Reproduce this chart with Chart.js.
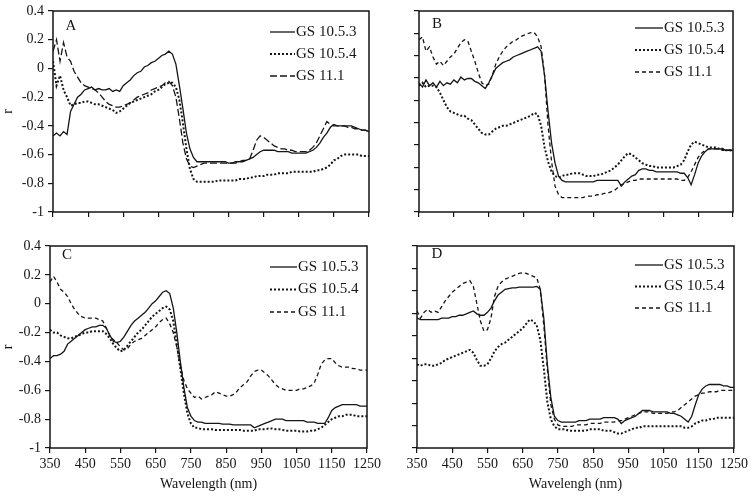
<!DOCTYPE html>
<html>
<head>
<meta charset="utf-8">
<script src="https://cdn.jsdelivr.net/npm/chart.js@4"></script>
<style>
html, body { margin: 0; padding: 0; background: #fff; }
#wrap { position: relative; width: 751px; height: 496px; overflow: hidden; }
#wrap canvas { position: absolute; left: 0; top: 0; }
</style>
</head>
<body>
<div id="wrap">
<canvas id="pA" width="751" height="496"></canvas>
<canvas id="pB" width="751" height="496"></canvas>
<canvas id="pC" width="751" height="496"></canvas>
<canvas id="pD" width="751" height="496"></canvas>
</div>
<script>
// wavelength (nm)
var wl = [350,360,370,380,390,400,410,420,430,440,
  450,460,470,480,490,500,510,520,530,540,
  550,560,570,580,590,600,610,620,630,640,
  650,660,670,680,690,700,710,720,730,740,
  750,760,770,780,790,800,810,820,830,840,
  850,860,870,880,890,900,910,920,930,940,
  950,960,970,980,990,1000,1010,1020,1030,1040,
  1050,1060,1070,1080,1090,1100,1110,1120,1130,1140,
  1150,1160,1170,1180,1190,1200,1210,1220,1230,1240,
  1250];

var seriesNames = ['GS 10.5.3', 'GS 10.5.4', 'GS 11.1'];

// panel A
var aGS1053 = [-0.47,-0.45,-0.47,-0.44,-0.46,-0.3,-0.25,-0.2,-0.18,-0.15,
  -0.14,-0.13,-0.15,-0.14,-0.15,-0.15,-0.14,-0.16,-0.15,-0.16,
  -0.12,-0.1,-0.08,-0.05,-0.03,-0.02,0.01,0.02,0.04,0.05,
  0.07,0.09,0.1,0.12,0.1,0.03,-0.12,-0.28,-0.45,-0.56,
  -0.62,-0.65,-0.65,-0.65,-0.65,-0.65,-0.65,-0.65,-0.65,-0.65,
  -0.66,-0.66,-0.65,-0.65,-0.64,-0.64,-0.63,-0.62,-0.6,-0.58,
  -0.57,-0.57,-0.57,-0.57,-0.58,-0.58,-0.58,-0.58,-0.59,-0.59,
  -0.59,-0.59,-0.59,-0.58,-0.57,-0.55,-0.52,-0.48,-0.45,-0.41,
  -0.39,-0.4,-0.4,-0.4,-0.4,-0.4,-0.41,-0.42,-0.43,-0.43,
  -0.44];
var aGS1054 = [0.05,-0.12,-0.05,-0.15,-0.2,-0.26,-0.25,-0.24,-0.24,-0.23,
  -0.23,-0.24,-0.25,-0.25,-0.26,-0.27,-0.28,-0.29,-0.31,-0.3,
  -0.28,-0.26,-0.24,-0.23,-0.22,-0.21,-0.2,-0.19,-0.18,-0.16,
  -0.15,-0.13,-0.11,-0.1,-0.1,-0.13,-0.22,-0.38,-0.56,-0.7,
  -0.77,-0.79,-0.79,-0.79,-0.79,-0.79,-0.79,-0.78,-0.78,-0.78,
  -0.78,-0.78,-0.78,-0.77,-0.77,-0.77,-0.76,-0.76,-0.75,-0.75,
  -0.75,-0.74,-0.74,-0.74,-0.73,-0.73,-0.73,-0.73,-0.72,-0.72,
  -0.72,-0.72,-0.72,-0.72,-0.72,-0.71,-0.71,-0.7,-0.69,-0.67,
  -0.64,-0.63,-0.61,-0.6,-0.6,-0.6,-0.6,-0.6,-0.61,-0.61,
  -0.61];
var aGS111 = [0.12,0.2,0.05,0.18,0.08,0.05,-0.02,-0.06,-0.1,-0.12,
  -0.13,-0.14,-0.15,-0.17,-0.2,-0.23,-0.25,-0.26,-0.27,-0.27,
  -0.26,-0.25,-0.24,-0.22,-0.2,-0.19,-0.18,-0.17,-0.15,-0.14,
  -0.13,-0.12,-0.1,-0.09,-0.12,-0.2,-0.35,-0.52,-0.63,-0.68,
  -0.69,-0.68,-0.67,-0.66,-0.66,-0.66,-0.66,-0.66,-0.66,-0.66,
  -0.66,-0.66,-0.66,-0.65,-0.65,-0.64,-0.63,-0.57,-0.5,-0.47,
  -0.48,-0.5,-0.52,-0.54,-0.55,-0.56,-0.56,-0.57,-0.57,-0.58,
  -0.58,-0.58,-0.58,-0.57,-0.55,-0.52,-0.47,-0.42,-0.37,-0.39,
  -0.4,-0.4,-0.4,-0.4,-0.41,-0.41,-0.42,-0.42,-0.43,-0.43,
  -0.44];

// panel B
var bGS1053 = [-0.1,-0.13,-0.08,-0.12,-0.1,-0.13,-0.09,-0.12,-0.1,-0.11,
  -0.08,-0.1,-0.06,-0.08,-0.07,-0.07,-0.09,-0.1,-0.12,-0.14,
  -0.1,-0.05,0.0,0.02,0.04,0.05,0.06,0.08,0.09,0.1,
  0.11,0.12,0.13,0.14,0.15,0.12,-0.05,-0.3,-0.52,-0.66,
  -0.75,-0.78,-0.79,-0.79,-0.79,-0.79,-0.79,-0.79,-0.79,-0.79,
  -0.79,-0.78,-0.78,-0.78,-0.78,-0.78,-0.78,-0.78,-0.82,-0.79,
  -0.77,-0.75,-0.74,-0.71,-0.7,-0.7,-0.71,-0.71,-0.72,-0.72,
  -0.72,-0.72,-0.72,-0.72,-0.72,-0.73,-0.73,-0.76,-0.81,-0.74,
  -0.66,-0.61,-0.58,-0.56,-0.56,-0.56,-0.56,-0.56,-0.57,-0.57,
  -0.57];
var bGS1054 = [-0.12,-0.1,-0.13,-0.12,-0.12,-0.13,-0.17,-0.22,-0.27,-0.3,
  -0.31,-0.32,-0.33,-0.33,-0.35,-0.36,-0.39,-0.42,-0.45,-0.46,
  -0.46,-0.44,-0.42,-0.41,-0.4,-0.4,-0.39,-0.38,-0.37,-0.36,
  -0.35,-0.34,-0.33,-0.31,-0.32,-0.4,-0.55,-0.65,-0.72,-0.75,
  -0.76,-0.75,-0.74,-0.74,-0.73,-0.73,-0.73,-0.74,-0.75,-0.75,
  -0.75,-0.74,-0.74,-0.73,-0.72,-0.71,-0.69,-0.67,-0.64,-0.61,
  -0.59,-0.6,-0.62,-0.64,-0.66,-0.67,-0.68,-0.68,-0.69,-0.69,
  -0.69,-0.69,-0.69,-0.69,-0.68,-0.67,-0.64,-0.58,-0.53,-0.51,
  -0.52,-0.53,-0.54,-0.55,-0.55,-0.55,-0.56,-0.56,-0.57,-0.57,
  -0.57];
var bGS111 = [0.2,0.22,0.12,0.15,0.08,0.03,0.05,0.02,0.05,0.08,
  0.1,0.14,0.18,0.2,0.19,0.12,0.05,-0.03,-0.1,-0.12,
  -0.11,-0.05,0.03,0.08,0.12,0.15,0.17,0.19,0.2,0.22,
  0.23,0.24,0.25,0.25,0.22,0.15,-0.05,-0.4,-0.65,-0.82,
  -0.88,-0.9,-0.9,-0.9,-0.9,-0.9,-0.9,-0.9,-0.89,-0.89,
  -0.89,-0.88,-0.88,-0.87,-0.87,-0.86,-0.85,-0.83,-0.81,-0.8,
  -0.79,-0.78,-0.78,-0.77,-0.77,-0.77,-0.77,-0.77,-0.77,-0.77,
  -0.77,-0.77,-0.77,-0.77,-0.77,-0.78,-0.78,-0.76,-0.72,-0.67,
  -0.62,-0.59,-0.57,-0.56,-0.56,-0.56,-0.56,-0.57,-0.57,-0.57,
  -0.58];

// panel C
var cGS1053 = [-0.38,-0.36,-0.36,-0.35,-0.33,-0.28,-0.26,-0.24,-0.22,-0.2,
  -0.18,-0.17,-0.16,-0.16,-0.15,-0.15,-0.17,-0.22,-0.26,-0.27,
  -0.26,-0.23,-0.19,-0.15,-0.12,-0.1,-0.08,-0.06,-0.03,0.0,
  0.02,0.05,0.08,0.09,0.07,-0.03,-0.2,-0.4,-0.58,-0.72,
  -0.78,-0.81,-0.82,-0.82,-0.83,-0.83,-0.83,-0.83,-0.83,-0.835,
  -0.835,-0.835,-0.84,-0.84,-0.84,-0.84,-0.84,-0.84,-0.86,-0.85,
  -0.84,-0.83,-0.82,-0.81,-0.8,-0.8,-0.8,-0.81,-0.81,-0.81,
  -0.81,-0.81,-0.81,-0.82,-0.82,-0.82,-0.83,-0.83,-0.83,-0.79,
  -0.74,-0.72,-0.71,-0.7,-0.7,-0.7,-0.7,-0.7,-0.71,-0.71,
  -0.71];
var cGS1054 = [-0.18,-0.2,-0.2,-0.22,-0.23,-0.24,-0.24,-0.23,-0.22,-0.21,
  -0.2,-0.2,-0.19,-0.19,-0.19,-0.19,-0.21,-0.24,-0.28,-0.31,
  -0.33,-0.32,-0.29,-0.26,-0.23,-0.2,-0.18,-0.15,-0.12,-0.09,
  -0.07,-0.05,-0.03,-0.02,-0.04,-0.12,-0.28,-0.45,-0.62,-0.76,
  -0.83,-0.86,-0.86,-0.87,-0.87,-0.87,-0.87,-0.875,-0.875,-0.875,
  -0.875,-0.875,-0.875,-0.875,-0.875,-0.88,-0.88,-0.88,-0.88,-0.87,
  -0.87,-0.87,-0.865,-0.865,-0.87,-0.87,-0.875,-0.88,-0.88,-0.88,
  -0.88,-0.885,-0.885,-0.885,-0.88,-0.88,-0.87,-0.86,-0.84,-0.82,
  -0.8,-0.79,-0.78,-0.78,-0.77,-0.77,-0.77,-0.78,-0.78,-0.78,
  -0.78];
var cGS111 = [0.15,0.19,0.15,0.1,0.08,0.05,0.0,-0.04,-0.07,-0.09,
  -0.1,-0.1,-0.1,-0.1,-0.11,-0.12,-0.17,-0.22,-0.25,-0.27,
  -0.3,-0.32,-0.31,-0.28,-0.26,-0.25,-0.24,-0.22,-0.2,-0.18,
  -0.16,-0.13,-0.11,-0.1,-0.14,-0.2,-0.3,-0.43,-0.53,-0.59,
  -0.62,-0.65,-0.64,-0.66,-0.65,-0.64,-0.63,-0.61,-0.62,-0.63,
  -0.64,-0.64,-0.63,-0.61,-0.58,-0.56,-0.54,-0.5,-0.47,-0.46,
  -0.46,-0.48,-0.5,-0.53,-0.56,-0.58,-0.59,-0.6,-0.6,-0.6,
  -0.6,-0.59,-0.59,-0.58,-0.57,-0.55,-0.49,-0.42,-0.39,-0.38,
  -0.38,-0.41,-0.43,-0.44,-0.44,-0.44,-0.45,-0.45,-0.46,-0.46,
  -0.46];

// panel D
var dGS1053 = [-0.1,-0.11,-0.11,-0.11,-0.11,-0.11,-0.11,-0.1,-0.1,-0.1,
  -0.09,-0.09,-0.08,-0.08,-0.07,-0.06,-0.05,-0.07,-0.08,-0.08,
  -0.06,-0.03,0.02,0.06,0.08,0.1,0.105,0.11,0.11,0.115,
  0.115,0.115,0.115,0.115,0.12,0.1,-0.1,-0.42,-0.65,-0.78,
  -0.81,-0.82,-0.82,-0.82,-0.82,-0.82,-0.81,-0.81,-0.81,-0.8,
  -0.8,-0.8,-0.8,-0.79,-0.79,-0.79,-0.79,-0.8,-0.83,-0.81,
  -0.8,-0.79,-0.78,-0.76,-0.74,-0.74,-0.74,-0.75,-0.75,-0.75,
  -0.75,-0.75,-0.76,-0.76,-0.77,-0.78,-0.8,-0.82,-0.78,-0.7,
  -0.63,-0.59,-0.57,-0.56,-0.56,-0.56,-0.56,-0.57,-0.57,-0.58,
  -0.58];
var dGS1054 = [-0.42,-0.43,-0.42,-0.42,-0.43,-0.43,-0.42,-0.41,-0.39,-0.38,
  -0.37,-0.36,-0.35,-0.34,-0.33,-0.32,-0.34,-0.39,-0.43,-0.43,
  -0.42,-0.38,-0.33,-0.3,-0.28,-0.27,-0.25,-0.23,-0.21,-0.19,
  -0.17,-0.14,-0.11,-0.12,-0.15,-0.25,-0.45,-0.68,-0.8,-0.85,
  -0.87,-0.87,-0.87,-0.88,-0.88,-0.88,-0.88,-0.88,-0.88,-0.87,
  -0.87,-0.87,-0.87,-0.88,-0.88,-0.88,-0.89,-0.9,-0.9,-0.89,
  -0.88,-0.87,-0.86,-0.86,-0.85,-0.85,-0.85,-0.85,-0.85,-0.85,
  -0.85,-0.85,-0.85,-0.85,-0.85,-0.85,-0.86,-0.86,-0.85,-0.83,
  -0.82,-0.81,-0.81,-0.8,-0.8,-0.79,-0.79,-0.79,-0.79,-0.79,
  -0.79];
var dGS111 = [-0.05,-0.1,-0.06,-0.04,-0.06,-0.05,-0.06,-0.02,0.02,0.05,
  0.08,0.1,0.12,0.14,0.15,0.16,0.12,0.0,-0.12,-0.19,
  -0.18,-0.1,0.05,0.12,0.15,0.17,0.18,0.19,0.2,0.21,
  0.215,0.21,0.2,0.19,0.18,0.1,-0.15,-0.45,-0.7,-0.8,
  -0.84,-0.85,-0.85,-0.85,-0.85,-0.84,-0.84,-0.84,-0.84,-0.83,
  -0.83,-0.83,-0.83,-0.82,-0.82,-0.82,-0.82,-0.81,-0.81,-0.8,
  -0.79,-0.78,-0.77,-0.76,-0.75,-0.75,-0.75,-0.76,-0.76,-0.76,
  -0.76,-0.76,-0.75,-0.75,-0.74,-0.72,-0.7,-0.68,-0.66,-0.64,
  -0.63,-0.62,-0.62,-0.61,-0.61,-0.61,-0.6,-0.6,-0.6,-0.6,
  -0.6];

var INK = '#151515';
var SERIF = "'Times New Roman', 'Liberation Serif', Times, serif";

// frame, panel letter and in-plot legend
var panelDeco = {
  id: 'panelDeco',
  afterDatasetsDraw(chart) {
    var o = chart.options.plugins.panelDeco;
    var ctx = chart.ctx, a = chart.chartArea;
    ctx.save();
    ctx.strokeStyle = INK;
    ctx.lineWidth = 1.5;
    ctx.setLineDash([]);
    ctx.strokeRect(a.left, a.top, a.right - a.left, a.bottom - a.top);

    ctx.fillStyle = INK;
    ctx.font = '15px ' + SERIF;
    ctx.textBaseline = 'middle';
    ctx.textAlign = 'center';
    ctx.fillText(o.letter, o.lx, o.ly);

    ctx.textAlign = 'left';
    chart.data.datasets.forEach(function (ds, i) {
      var y = o.ly0 + i * o.dy;
      ctx.beginPath();
      ctx.lineWidth = ds.borderWidth;
      ctx.setLineDash(ds.borderDash || []);
      ctx.moveTo(o.x0, y);
      ctx.lineTo(o.x0 + o.len, y);
      ctx.stroke();
      ctx.setLineDash([]);
      ctx.fillText(ds.label, o.x0 + o.len + 1, y);
    });
    ctx.restore();
  }
};

function fmtR(v) { return String(Math.round(v * 10) / 10); }
function fmtW(v) { return String(v); }

function makePanel(id, p) {
  var dashed = p.longDash ? [7, 3] : [4, 3];
  var styles = [
    { borderWidth: 1.3, borderDash: [] },
    { borderWidth: 2, borderDash: [2, 2] },
    { borderWidth: 1.3, borderDash: dashed }
  ];
  var datasets = p.series.map(function (arr, i) {
    return {
      label: seriesNames[i],
      data: wl.map(function (w, k) { return { x: w, y: arr[k] }; }),
      borderColor: INK,
      borderWidth: styles[i].borderWidth,
      borderDash: styles[i].borderDash,
      pointRadius: 0,
      tension: 0,
      fill: false
    };
  });

  var yTicks = p.yLabels
    ? { display: true, stepSize: 0.2, color: INK, font: { family: SERIF, size: 14 }, padding: 4, callback: fmtR }
    : { display: false, count: 10 };

  return new Chart(id, {
    type: 'line',
    data: { datasets: datasets },
    options: {
      responsive: false,
      animation: false,
      layout: { padding: { left: 0, top: p.top, right: 751 - p.right, bottom: 0 } },
      plugins: {
        legend: { display: false },
        tooltip: { enabled: false },
        panelDeco: p.deco
      },
      scales: {
        x: {
          type: 'linear',
          min: 350, max: 1250,
          ticks: p.xLabels
            ? { display: true, stepSize: 100, color: INK, font: { family: SERIF, size: 14 }, padding: 3, maxRotation: 0, callback: fmtW }
            : { display: false, stepSize: 100 },
          grid: { display: true, drawOnChartArea: false, drawTicks: true, tickLength: 5, color: INK, lineWidth: 1.2 },
          border: { display: false },
          title: p.xTitle
            ? { display: true, text: p.xTitle, color: INK, font: { family: SERIF, size: 14 }, padding: { top: 0, bottom: 3 } }
            : { display: false },
          afterFit: function (s) { s.height = 496 - p.bottom; s.paddingLeft = 0; s.paddingRight = 0; }
        },
        y: {
          min: -1, max: 0.4,
          ticks: yTicks,
          grid: { display: true, drawOnChartArea: false, drawTicks: true, tickLength: 5, color: INK, lineWidth: 1.2 },
          border: { display: false },
          title: p.yLabels
            ? { display: true, text: 'r', color: INK, font: { family: SERIF, size: 14 }, padding: { top: 0, bottom: 0 } }
            : { display: false },
          afterFit: function (s) { s.width = p.left; s.paddingTop = 0; s.paddingBottom = 0; }
        }
      }
    },
    plugins: [panelDeco]
  });
}

makePanel('pA', {
  left: 53, right: 369, top: 11, bottom: 212,
  yLabels: true, xLabels: false, longDash: true,
  series: [aGS1053, aGS1054, aGS111],
  deco: { letter: 'A', lx: 71, ly: 26, x0: 270, len: 25, ly0: 32, dy: 22 }
});
makePanel('pB', {
  left: 419, right: 733, top: 11, bottom: 212,
  yLabels: false, xLabels: false,
  series: [bGS1053, bGS1054, bGS111],
  deco: { letter: 'B', lx: 437, ly: 24, x0: 635, len: 28, ly0: 28, dy: 22 }
});
makePanel('pC', {
  left: 50, right: 367, top: 246, bottom: 448,
  yLabels: true, xLabels: true, xTitle: 'Wavelength (nm)',
  series: [cGS1053, cGS1054, cGS111],
  deco: { letter: 'C', lx: 67, ly: 255, x0: 270, len: 27, ly0: 267, dy: 22.5 }
});
makePanel('pD', {
  left: 417, right: 734, top: 246, bottom: 448,
  yLabels: false, xLabels: true, xTitle: 'Wavelengh (nm)',
  series: [dGS1053, dGS1054, dGS111],
  deco: { letter: 'D', lx: 437, ly: 254, x0: 635, len: 28, ly0: 265, dy: 21.5 }
});
</script>
</body>
</html>
